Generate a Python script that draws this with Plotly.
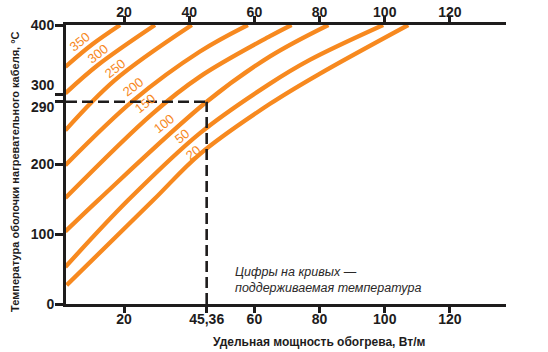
import plotly.graph_objects as go

# ---- data ----
X_RANGE = [2.2, 137.2]
Y_RANGE = [0, 400]

bottom_tickvals = [20, 45.36, 60, 80, 100, 120]
bottom_ticktext = ["20", "45,36", "60", "80", "100", "120"]
top_tickvals = [20, 40, 60, 80, 100, 120]
top_ticktext = ["20", "40", "60", "80", "100", "120"]
left_tickvals = [0, 100, 200, 290, 300, 400]
left_ticktext = ["0", "100", "200", "", "", "400"]

curve_names = ["350", "300", "250", "200", "150", "100", "50", "20"]
c350_x = [2.0, 10.2, 18.8]
c350_y = [340, 372, 400]
c300_x = [2.0, 12.1, 29.5]
c300_y = [302, 343, 400]
c250_x = [2.0, 17.2, 40.8]
c250_y = [249, 321, 400]
c200_x = [2.0, 22.9, 43.3, 58.0]
c200_y = [199, 292, 362, 400]
c150_x = [2.0, 28.5, 43.3, 64.8, 71.4]
c150_y = [152, 272, 326, 384, 400]
c100_x = [2.0, 12.1, 45.36, 64.8, 82.7]
c100_y = [104, 149, 290, 355, 400]
c50_x = [2.0, 21.3, 43.3, 64.8, 77.0, 99.5]
c50_y = [53, 149, 245, 316, 350, 400]
c20_x = [2.4, 29.0, 43.3, 64.8, 80.0, 107.2]
c20_y = [27, 149, 215, 287, 330, 400]

label_x = [6.5, 12.1, 17.2, 22.9, 26.4, 32.3, 37.7, 41.3]
label_y = [376, 359, 338, 312, 288, 259, 240, 217]

example_power = 45.36
example_temp = 290

note_lines = ["Цифры на кривых —", "поддерживаемая температура"]
x_title = "Удельная мощность обогрева, Вт/м"
y_title = "Температура оболочки нагревательного кабеля, °С"

# ---- styling ----
ORANGE = "#F7891F"
INK = "#1e1c1c"
FONT = "Liberation Sans, Arial, sans-serif"

curves_x = [c350_x, c300_x, c250_x, c200_x, c150_x, c100_x, c50_x, c20_x]
curves_y = [c350_y, c300_y, c250_y, c200_y, c150_y, c100_y, c50_y, c20_y]

fig = go.Figure()
for name, xs, ys in zip(curve_names, curves_x, curves_y):
    fig.add_trace(go.Scatter(x=xs, y=ys, mode="lines", name=name,
                             line=dict(color=ORANGE, width=4.3, shape="spline", smoothing=1.0),
                             hoverinfo="skip", showlegend=False))

# dashed example lines
fig.add_trace(go.Scatter(x=[example_power, example_power], y=[Y_RANGE[0], example_temp],
                         mode="lines", line=dict(color=INK, width=2.6, dash="11px,5px"),
                         showlegend=False, hoverinfo="skip"))
fig.add_trace(go.Scatter(x=[X_RANGE[0], example_power], y=[example_temp, example_temp],
                         mode="lines", line=dict(color=INK, width=2.6, dash="11px,5px"),
                         showlegend=False, hoverinfo="skip", cliponaxis=False))
# carrier trace for top axis
fig.add_trace(go.Scatter(x=[X_RANGE[0], X_RANGE[1]], y=[Y_RANGE[0], Y_RANGE[0]], xaxis="x2",
                         mode="lines", line=dict(width=0), showlegend=False, hoverinfo="skip"))

tickfont = dict(family=FONT, size=14, color=INK, weight="bold")
common = dict(showgrid=False, zeroline=False, showline=True, linecolor=INK, linewidth=3,
              ticks="outside", tickwidth=2.5, tickcolor=INK, tickfont=tickfont, automargin=False)
fig.update_layout(
    template="none",
    width=548, height=352,
    margin=dict(l=66, r=42, t=25, b=48, pad=0),
    paper_bgcolor="white", plot_bgcolor="white",
    xaxis=dict(range=X_RANGE, tickvals=bottom_tickvals, ticktext=bottom_ticktext,
               ticklen=6, ticklabelstandoff=-6, **common),
    xaxis2=dict(range=X_RANGE, overlaying="x", side="top", anchor="y",
                tickvals=top_tickvals, ticktext=top_ticktext, ticklen=6,
                ticklabelstandoff=-7, **common),
    yaxis=dict(range=Y_RANGE, tickvals=left_tickvals, ticktext=left_ticktext,
               ticklen=8, ticklabelstandoff=-2, **common),
)

# tick labels for the two close ticks (axis break region)
fig.add_annotation(x=0, xref="paper", xanchor="right", xshift=-9, y=300, yref="y",
                   yshift=10, text="300", showarrow=False, font=tickfont)
fig.add_annotation(x=0, xref="paper", xanchor="right", xshift=-9, y=290, yref="y",
                   yshift=-5, text="290", showarrow=False, font=tickfont)

# curve labels
for name, lx, ly in zip(curve_names, label_x, label_y):
    fig.add_annotation(x=lx, y=ly, text=name, showarrow=False, textangle=-38,
                       font=dict(family=FONT, size=13, color=ORANGE))

# note
fig.add_annotation(x=53.4, y=33.7, xanchor="left", yanchor="middle", align="left",
                   text="<br>".join(note_lines), showarrow=False,
                   font=dict(family=FONT, size=12.5, color="#2a2828", style="italic"))

# axis titles
fig.add_annotation(x=(319 - 66) / 440, xref="paper", y=(304 - 342) / 279, yref="paper",
                   yanchor="middle", text=x_title, showarrow=False,
                   font=dict(family=FONT, size=12, color=INK, weight="bold"))
fig.add_annotation(x=(15 - 66) / 440, xref="paper", y=(304 - 172) / 279, yref="paper",
                   text=y_title, textangle=-90, showarrow=False, xanchor="center", yanchor="middle",
                   font=dict(family=FONT, size=11, color=INK, weight="bold"))

fig.write_html("out.html")
